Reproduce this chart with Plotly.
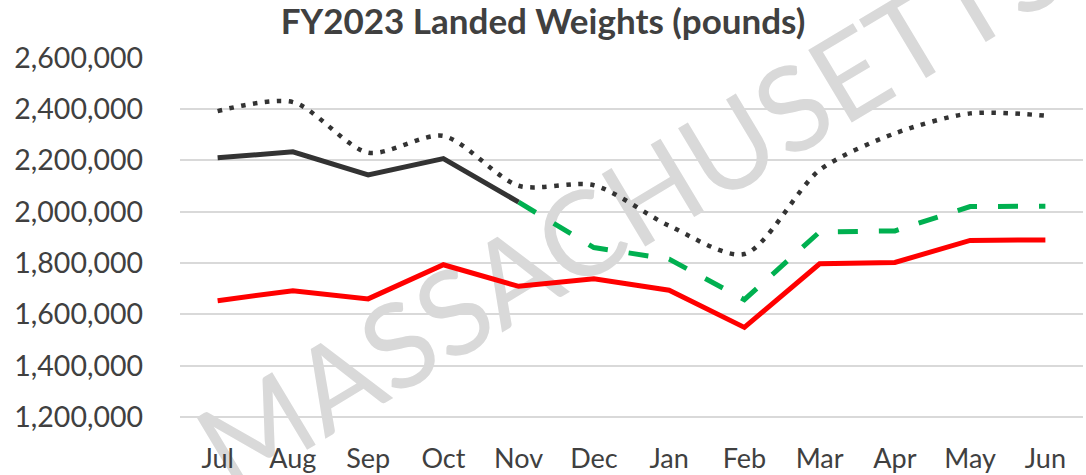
import plotly.graph_objects as go

months = ["Jul", "Aug", "Sep", "Oct", "Nov", "Dec", "Jan", "Feb", "Mar", "Apr", "May", "Jun"]
prior_year = [2392000, 2427000, 2230000, 2295000, 2101000, 2103000, 1945000, 1835000, 2162000, 2305000, 2383000, 2374000]
actual = [2210000, 2233000, 2143000, 2207000, 2037000, None, None, None, None, None, None, None]
projected = [None, None, None, None, 2037000, 1860000, 1815000, 1657000, 1921000, 1925000, 2020000, 2021000]
lower = [1653000, 1692000, 1660000, 1793000, 1709000, 1738000, 1694000, 1549000, 1797000, 1802000, 1888000, 1890000]
y_ticks = [1200000, 1400000, 1600000, 1800000, 2000000, 2200000, 2400000, 2600000]
y_tick_text = [f"{v:,}" for v in y_ticks]
watermark = "MASSACHUSETTS"

FONT = "Lato, 'Open Sans', sans-serif"

fig = go.Figure()
fig.add_trace(go.Scatter(x=months, y=prior_year, mode="lines", name="FY2022",
                         line=dict(color="#333333", width=4.5, dash="4.5px,7.5px", shape="spline", smoothing=0.8)))
fig.add_trace(go.Scatter(x=months, y=lower, mode="lines", name="Lower",
                         line=dict(color="#FF0000", width=5)))
fig.add_trace(go.Scatter(x=months, y=actual, mode="lines", name="FY2023",
                         line=dict(color="#333333", width=5)))
fig.add_trace(go.Scatter(x=months, y=projected, mode="lines", name="FY2023 Projected",
                         line=dict(color="#00B050", width=5, dash="20px,21px")))

fig.add_shape(type="rect", xref="paper", yref="paper", x0=0.4467, x1=0.5467, y0=0.5736, y1=0.6736,
              layer="below", line=dict(width=0), fillcolor="rgba(0,0,0,0)",
              label=dict(text=watermark, textangle=-31,
                         font=dict(family=FONT, size=118, color="#d9d9d9")))

fig.update_layout(
    width=1086, height=475,
    margin=dict(l=180, r=3, t=57, b=35, autoexpand=False),
    paper_bgcolor="white", plot_bgcolor="rgba(0,0,0,0)",
    showlegend=False,
    title=dict(text="<b>FY2023 Landed Weights (pounds)</b>", x=0.5, xanchor="center",
               y=1 - 22 / 475, yanchor="middle",
               font=dict(family=FONT, size=35, color="#404040")),
    font=dict(family=FONT, size=27, color="#404040"),
)
fig.update_xaxes(type="category", range=[-0.5, 11.5], showgrid=False, zeroline=False,
                 showline=False, ticks="", automargin=False, tickfont=dict(size=27, color="#404040"))
fig.update_yaxes(range=[1110100, 2602700], tickvals=y_ticks, ticktext=y_tick_text,
                 showgrid=True, gridcolor="#d9d9d9", gridwidth=2, zeroline=False,
                 showline=False, ticks="", ticklabelstandoff=36, automargin=False,
                 tickfont=dict(size=28.5, color="#404040"))

fig.write_html("out.html", config={"displayModeBar": False},
               post_script="document.body.style.margin='0';document.body.style.overflow='hidden';")
